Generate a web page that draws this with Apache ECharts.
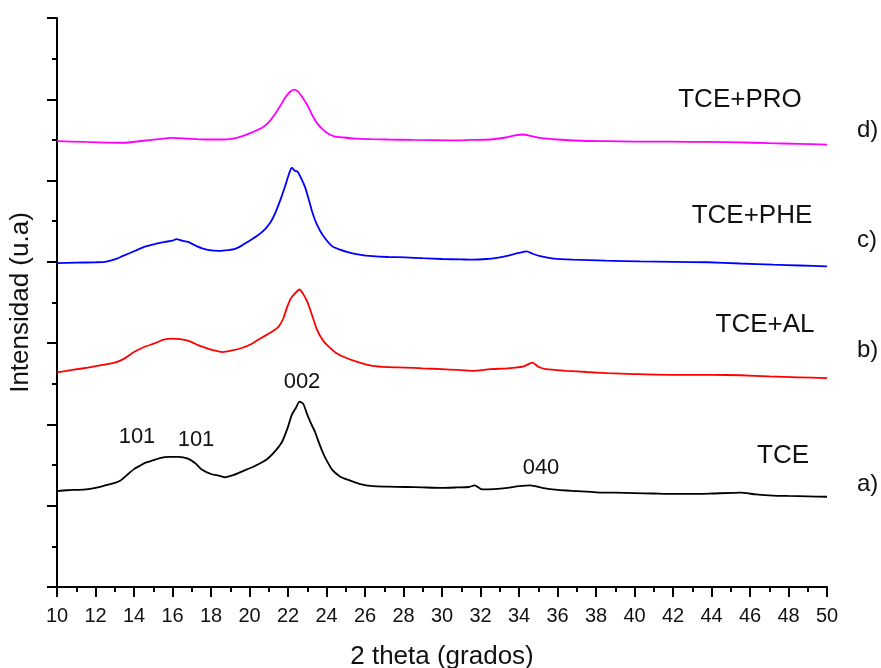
<!DOCTYPE html>
<html><head><meta charset="utf-8">
<script src="https://cdn.jsdelivr.net/npm/echarts@6/dist/echarts.min.js"></script>
<style>html,body{margin:0;padding:0;background:#fff}#c{width:881px;height:668px}</style>
</head><body><div id="c"></div>
<script>
var xTicks = {min: 10, max: 50, step: 2};
var seriesNames = ['TCE', 'TCE+AL', 'TCE+PHE', 'TCE+PRO'];
var seriesTags = ['a)', 'b)', 'c)', 'd)'];
var peakLabels = ['101', '101', '002', '040'];
var xLabelText = '2 theta (grados)';
var yLabelText = 'Intensidad (u.a)';

var tce = [[10,1.18],[10.5,1.19],[11,1.195],[11.5,1.2],[12,1.22],[12.5,1.25],[13,1.28],[13.3,1.31],[13.6,1.37],[14,1.45],[14.3,1.49],[14.6,1.53],[15,1.56],[15.4,1.59],[15.8,1.6],[16.3,1.6],[16.8,1.58],[17.2,1.52],[17.5,1.45],[18,1.39],[18.4,1.37],[18.7,1.35],[19.2,1.38],[19.6,1.42],[20.2,1.48],[20.7,1.54],[21,1.59],[21.4,1.69],[21.7,1.79],[22,1.97],[22.2,2.12],[22.4,2.2],[22.6,2.28],[22.8,2.25],[23,2.12],[23.2,2.01],[23.4,1.91],[23.6,1.78],[23.8,1.66],[24,1.56],[24.3,1.44],[24.7,1.36],[25.1,1.32],[25.7,1.27],[26.4,1.24],[27.2,1.235],[28.1,1.23],[29,1.225],[30,1.22],[30.8,1.225],[31.4,1.23],[31.7,1.25],[32.1,1.2],[32.7,1.205],[33.4,1.22],[34,1.24],[34.6,1.25],[35.2,1.22],[36,1.195],[37,1.18],[38,1.165],[39,1.16],[40,1.155],[41,1.15],[42,1.145],[43,1.145],[44,1.15],[45.5,1.16],[46.3,1.14],[47.2,1.125],[48,1.12],[49,1.115],[50,1.11]];
var tceAl = [[10,2.64],[10.8,2.67],[11.6,2.7],[12.3,2.73],[13,2.76],[13.5,2.81],[14,2.89],[14.5,2.95],[15.1,3.0],[15.5,3.04],[16,3.055],[16.4,3.05],[16.8,3.03],[17.2,2.99],[17.5,2.96],[18,2.92],[18.6,2.89],[19.1,2.91],[19.6,2.94],[20.1,2.99],[20.65,3.07],[21.1,3.13],[21.5,3.2],[21.75,3.3],[21.95,3.44],[22.15,3.55],[22.35,3.61],[22.6,3.66],[22.8,3.6],[23,3.51],[23.2,3.38],[23.5,3.17],[23.8,3.04],[24.1,2.96],[24.5,2.88],[25,2.82],[25.6,2.77],[26.4,2.72],[27.2,2.705],[28.1,2.7],[29,2.69],[30,2.68],[30.8,2.67],[31.6,2.66],[32.5,2.68],[33.4,2.69],[34.2,2.71],[34.7,2.76],[35,2.71],[35.4,2.68],[36.5,2.66],[37.5,2.645],[38.6,2.63],[40,2.62],[42,2.61],[44,2.61],[45.5,2.605],[47,2.59],[48.5,2.58],[50,2.57]];
var tcePhe = [[10,3.985],[11,3.99],[12,3.995],[12.5,4.0],[13,4.03],[13.4,4.07],[14,4.13],[14.6,4.19],[15.1,4.22],[15.6,4.245],[16,4.26],[16.2,4.28],[16.5,4.26],[16.8,4.245],[17.2,4.2],[17.5,4.17],[18,4.14],[18.4,4.135],[18.9,4.145],[19.25,4.16],[19.6,4.2],[19.9,4.245],[20.4,4.32],[20.8,4.4],[21.1,4.49],[21.3,4.58],[21.6,4.76],[21.85,4.93],[22.05,5.08],[22.2,5.16],[22.35,5.12],[22.5,5.11],[22.7,5.02],[22.9,4.91],[23.1,4.75],[23.25,4.62],[23.5,4.46],[23.8,4.33],[24.3,4.19],[24.7,4.15],[25.1,4.12],[25.7,4.09],[26.4,4.07],[27.2,4.06],[28.1,4.055],[29,4.045],[30,4.035],[31,4.03],[31.6,4.027],[32.3,4.035],[32.85,4.05],[33.5,4.08],[34,4.11],[34.4,4.13],[34.7,4.1],[35.1,4.07],[35.8,4.04],[36.8,4.027],[38.5,4.015],[40.3,4.005],[42,4.0],[43.8,3.995],[45.5,3.98],[47.2,3.965],[48.6,3.955],[50,3.945]];
var tcePro = [[10,5.485],[11.5,5.475],[13.4,5.465],[14.5,5.49],[15.3,5.51],[16,5.525],[16.8,5.515],[17.7,5.505],[18.6,5.505],[19.2,5.52],[19.6,5.545],[20.1,5.59],[20.65,5.65],[21,5.72],[21.3,5.81],[21.6,5.92],[21.85,6.02],[22.1,6.09],[22.3,6.12],[22.5,6.1],[22.7,6.04],[23,5.93],[23.25,5.81],[23.5,5.71],[23.8,5.63],[24.1,5.575],[24.4,5.545],[24.9,5.53],[25.5,5.517],[26.3,5.51],[27.2,5.505],[28.5,5.5],[30.5,5.495],[31.5,5.5],[32.5,5.505],[33.3,5.53],[33.8,5.555],[34.2,5.567],[34.6,5.55],[35.1,5.525],[36,5.505],[37.2,5.49],[38.6,5.485],[40,5.48],[41.9,5.478],[43.8,5.476],[45.5,5.47],[47,5.46],[48.5,5.452],[50,5.443]];

var FONT = '"Liberation Sans", Arial, sans-serif';
var chart = echarts.init(document.getElementById('c'), null, {renderer: 'canvas'});

function txt(s, x, y, size, align) {
  return {type: 'text', x: x, y: y, style: {text: s, font: size + 'px ' + FONT, fill: '#111', textAlign: align || 'center', textVerticalAlign: 'middle'}};
}

var colors = ['#000000', '#ff0000', '#0000ff', '#ff00ff'];
var datas = [tce, tceAl, tcePhe, tcePro];

chart.setOption({
  animation: false,
  backgroundColor: '#fff',
  grid: {left: 57, right: 54, top: 18, bottom: 81, containLabel: false, outerBoundsMode: 'none'},
  xAxis: {
    type: 'value', min: xTicks.min, max: xTicks.max, interval: xTicks.step,
    axisLine: {show: true, onZero: false, lineStyle: {color: '#000', width: 2}},
    axisTick: {show: true, inside: false, length: 10, lineStyle: {color: '#000', width: 2}},
    minorTick: {show: true, splitNumber: 2, length: 5, lineStyle: {color: '#000', width: 2}},
    axisLabel: {color: '#111', fontSize: 20, fontFamily: FONT, margin: 19},
    splitLine: {show: false},
    name: xLabelText, nameLocation: 'middle', nameGap: 57,
    nameTextStyle: {color: '#111', fontSize: 26, fontFamily: FONT}
  },
  yAxis: {
    type: 'value', min: 0, max: 7, interval: 1,
    axisLine: {show: true, onZero: false, lineStyle: {color: '#000', width: 2}},
    axisTick: {show: true, inside: false, length: 10, lineStyle: {color: '#000', width: 2}},
    minorTick: {show: true, splitNumber: 2, length: 5, lineStyle: {color: '#000', width: 2}},
    axisLabel: {show: false},
    splitLine: {show: false},
    name: yLabelText, nameLocation: 'middle', nameGap: 23, nameRotate: 90,
    nameTextStyle: {color: '#111', fontSize: 26, fontFamily: FONT}
  },
  series: seriesNames.map(function (n, i) {
    return {type: 'line', name: n, data: datas[i], showSymbol: false, symbol: 'none',
      lineStyle: {color: colors[i], width: 1.8}, smooth: 0.2, z: 2};
  }),
  graphic: [
    txt(seriesNames[3], 740, 100, 26), txt(seriesTags[3], 857, 130, 24, 'left'),
    txt(seriesNames[2], 752, 216, 26), txt(seriesTags[2], 857, 240, 24, 'left'),
    txt(seriesNames[1], 765, 325, 26), txt(seriesTags[1], 857, 350, 24, 'left'),
    txt(seriesNames[0], 783, 456, 26), txt(seriesTags[0], 857, 484, 24, 'left'),
    txt(peakLabels[0], 137, 437, 22), txt(peakLabels[1], 196, 440, 22),
    txt(peakLabels[2], 302, 382, 22), txt(peakLabels[3], 541, 468, 22)
  ]
});
</script></body></html>
